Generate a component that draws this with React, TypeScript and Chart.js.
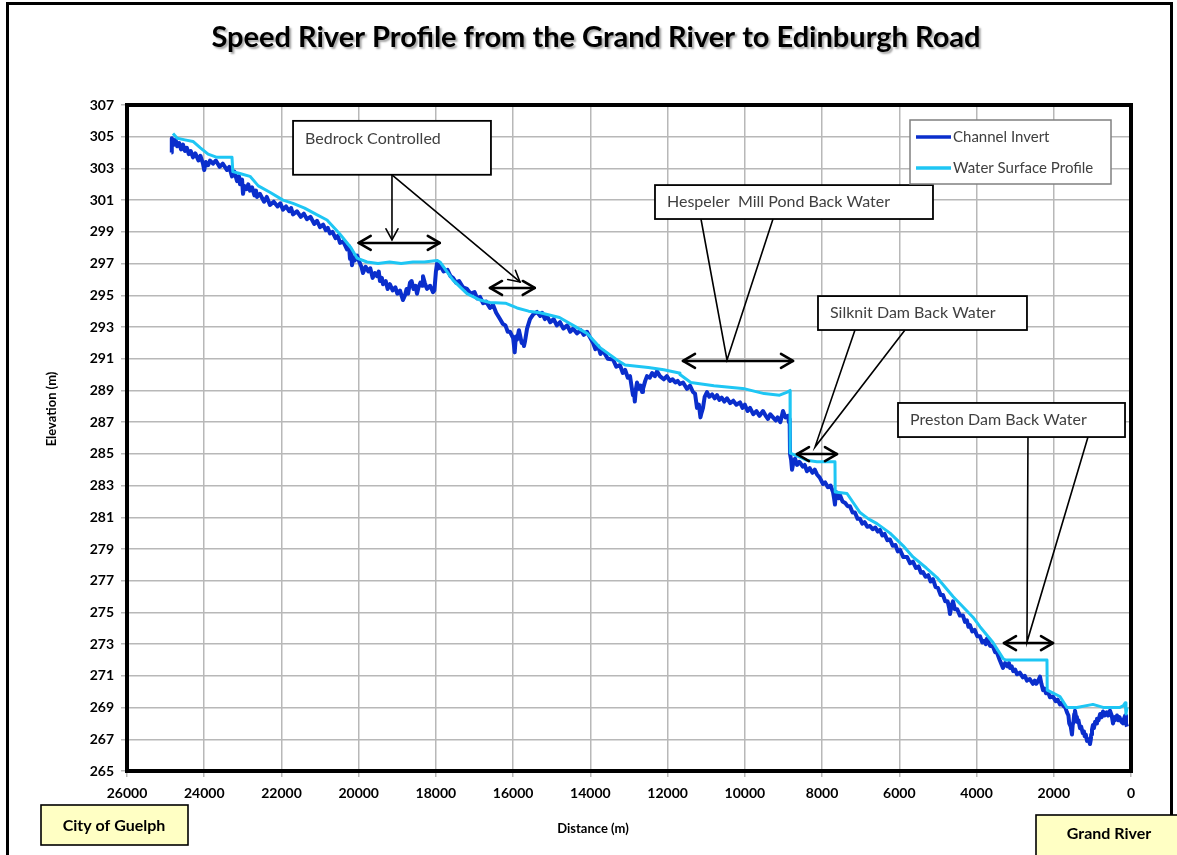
import React, { useEffect, useRef } from "react";
import { Chart, registerables } from "chart.js";

Chart.register(...registerables);

// ---------- DATA ----------
const TITLE = "Speed River Profile from the Grand River to Edinburgh Road";
const X_TITLE = "Distance (m)";
const Y_TITLE = "Elevation (m)";
const SERIES_NAMES = ["Channel Invert", "Water Surface Profile"];

const X_MIN = 0;
const X_MAX = 26000;
const X_STEP = 2000;
const Y_MIN = 265;
const Y_MAX = 307;
const Y_STEP = 2;

const invertDist = [
  24850, 24840, 24780, 24740, 24700, 24650, 24600, 24550, 24500, 24450,
  24400, 24350, 24291, 24230, 24150, 24100, 24032, 24000, 23960, 23900,
  23850, 23773, 23700, 23600, 23520, 23410, 23350, 23281, 23220, 23150,
  23100, 23074, 23020, 22996, 22960, 22900, 22860, 22815, 22760, 22700,
  22660, 22634, 22560, 22450, 22380, 22297, 22200, 22100, 22030, 21960,
  21880, 21800, 21750, 21701, 21600, 21500, 21420, 21339, 21250, 21150,
  21080, 21002, 20920, 20850, 20800, 20743, 20680, 20600, 20540, 20484,
  20400, 20303, 20250, 20225, 20200, 20174, 20140, 20100, 20040, 19966,
  19930, 19889, 19820, 19750, 19700, 19640, 19580, 19526, 19480, 19450,
  19400, 19371, 19300, 19250, 19190, 19120, 19050, 19000, 18930, 18880,
  18853, 18800, 18760, 18720, 18671, 18630, 18580, 18530, 18490, 18450,
  18400, 18360, 18335, 18290, 18231, 18150, 18076, 18040, 18000, 17972,
  17930, 17895, 17800, 17700, 17620, 17558, 17480, 17400, 17300, 17195,
  17100, 17000, 16930, 16859, 16780, 16700, 16600, 16522, 16440, 16341,
  16270, 16200, 16140, 16082, 16000, 15960, 15930, 15900, 15850, 15823,
  15780, 15750, 15720, 15693, 15640, 15564, 15480, 15383, 15300, 15250,
  15180, 15124, 15040, 14950, 14870, 14787, 14700, 14600, 14520, 14450,
  14350, 14250, 14170, 14088, 14000, 13932, 13870, 13800, 13740, 13673,
  13550, 13414, 13330, 13233, 13160, 13100, 13030, 12974, 12930, 12897,
  12870, 12850, 12820, 12793, 12740, 12700, 12660, 12638, 12580, 12534,
  12460, 12400, 12330, 12275, 12200, 12100, 12020, 11939, 11870, 11800,
  11740, 11680, 11600, 11498, 11420, 11343, 11290, 11239, 11190, 11150,
  11120, 11084, 11040, 10980, 10920, 10850, 10780, 10721, 10660, 10600,
  10530, 10462, 10380, 10300, 10220, 10125, 10060, 10000, 9930, 9866,
  9780, 9700, 9620, 9530, 9460, 9400, 9340, 9271, 9200, 9150,
  9080, 9012, 8950, 8882, 8860, 8840, 8830, 8800, 8778, 8740,
  8700, 8650, 8590, 8500, 8450, 8391, 8320, 8250, 8190, 8132,
  8060, 7976, 7920, 7850, 7780, 7717, 7690, 7666, 7640, 7600,
  7570, 7537, 7470, 7400, 7340, 7278, 7210, 7150, 7080, 7018,
  6960, 6900, 6830, 6759, 6690, 6620, 6560, 6500, 6440, 6380,
  6310, 6241, 6170, 6100, 6040, 5982, 5900, 5800, 5720, 5646,
  5570, 5500, 5440, 5387, 5320, 5250, 5190, 5128, 5060, 5000,
  4930, 4869, 4810, 4750, 4710, 4688, 4650, 4610, 4560, 4500,
  4430, 4351, 4300, 4250, 4210, 4170, 4110, 4050, 3980, 3911,
  3850, 3800, 3760, 3730, 3650, 3574, 3520, 3470, 3400, 3315,
  3260, 3200, 3160, 3134, 3090, 3050, 3000, 2953, 2880, 2800,
  2750, 2694, 2620, 2538, 2490, 2450, 2400, 2357, 2320, 2279,
  2240, 2200, 2150, 2098, 2020, 1950, 1900, 1840, 1800, 1750,
  1700, 1658, 1620, 1600, 1560, 1529, 1510, 1490, 1470, 1451,
  1420, 1400, 1360, 1321, 1290, 1250, 1220, 1200, 1170, 1140,
  1100, 1062, 1040, 1030, 1010, 985, 960, 930, 900, 881,
  840, 800, 760, 725, 680, 630, 590, 544, 500, 466,
  440, 420, 390, 363, 330, 300, 250, 207, 180, 150,
  130, 104,
];
const invertElev = [
  304.0, 304.9, 304.5, 304.8, 304.4, 304.6, 304.2, 304.5, 304.1, 304.3,
  303.9, 304.1, 303.7, 303.95, 303.5, 303.8, 303.3, 302.9, 303.4, 303.2,
  303.5, 303.3, 303.5, 303.1, 303.3, 302.9, 303.1, 302.5, 302.8, 302.2,
  302.5, 302.0, 302.3, 301.4, 301.9, 301.7, 302.0, 301.6, 301.8, 301.3,
  301.6, 301.2, 301.4, 300.9, 301.2, 300.7, 300.9, 300.6, 300.8, 300.4,
  300.6, 300.3, 300.5, 300.1, 300.3, 299.95, 300.15, 299.8, 299.95, 299.5,
  299.7, 299.3, 299.45, 299.1, 299.25, 298.9, 299.0, 298.6, 298.75, 298.3,
  298.4, 297.9, 298.1, 297.3, 297.8, 296.9, 297.4, 297.2, 297.5, 297.0,
  296.8, 296.4, 296.8, 296.5, 296.7, 296.1, 296.4, 296.2, 296.5, 295.9,
  296.1, 295.7, 295.9, 295.4, 295.7, 295.3, 295.5, 295.1, 295.3, 294.9,
  294.7, 295.0, 295.4, 295.1, 295.8, 295.9, 295.4, 295.6, 295.1, 295.5,
  295.8, 295.6, 296.2, 295.8, 295.4, 295.6, 295.2, 295.3, 296.5, 297.0,
  296.7, 296.9, 296.5, 296.6, 296.2, 296.1, 295.8, 295.9, 295.5, 295.4,
  295.1, 295.2, 294.8, 294.9, 294.5, 294.6, 294.2, 294.4, 293.9, 293.5,
  293.2, 293.1, 292.7, 292.7, 292.3, 291.4, 292.4, 292.2, 292.8, 292.5,
  292.0, 292.1, 291.8, 292.1, 292.9, 293.5, 293.8, 293.95, 293.7, 293.9,
  293.5, 293.7, 293.3, 293.5, 293.1, 293.3, 292.9, 293.1, 292.7, 292.9,
  292.6, 292.8, 292.5, 292.7, 292.3, 292.0, 291.6, 291.8, 291.3, 291.5,
  291.0, 290.95, 290.5, 290.6, 290.1, 290.3, 289.8, 289.9, 289.2, 288.7,
  288.9, 288.3, 289.1, 289.5, 289.1, 289.3, 288.9, 289.1, 289.6, 289.9,
  289.8, 290.1, 289.9, 290.2, 289.9, 289.7, 289.9, 289.6, 289.7, 289.5,
  289.6, 289.4, 289.5, 289.1, 289.3, 288.9, 288.8, 287.9, 288.1, 287.3,
  287.6, 287.9, 288.6, 288.9, 288.6, 288.75, 288.5, 288.7, 288.4, 288.55,
  288.3, 288.5, 288.2, 288.35, 288.1, 288.25, 287.9, 288.1, 287.7, 287.9,
  287.5, 287.7, 287.4, 287.7, 287.4, 287.2, 287.5, 287.3, 287.1, 287.3,
  287.0, 287.7, 287.3, 287.4, 287.0, 287.2, 285.0, 284.6, 284.0, 284.5,
  284.7, 284.3, 284.5, 284.2, 284.3, 283.9, 284.1, 283.8, 284.0, 283.7,
  283.5, 283.1, 283.2, 282.9, 283.0, 282.6, 282.2, 281.8, 282.6, 282.5,
  282.2, 282.4, 282.0, 281.9, 281.7, 281.7, 281.3, 281.3, 280.9, 280.9,
  280.6, 280.7, 280.4, 280.45, 280.25, 280.35, 280.1, 280.2, 279.85, 279.95,
  279.55, 279.6, 279.2, 279.25, 278.85, 278.95, 278.5, 278.5, 278.1, 278.2,
  277.8, 277.9, 277.5, 277.55, 277.25, 277.35, 276.95, 277.1, 276.6, 276.55,
  276.1, 276.1, 275.7, 275.7, 275.3, 274.9, 275.4, 275.7, 275.2, 275.2,
  274.8, 274.8, 274.4, 274.5, 274.1, 274.2, 273.8, 273.9, 273.5, 273.5,
  273.1, 273.2, 273.0, 273.35, 272.9, 272.85, 272.5, 272.45, 272.0, 271.5,
  271.8, 271.6, 271.8, 271.5, 271.6, 271.3, 271.4, 271.1, 271.2, 270.9,
  271.0, 270.7, 270.8, 270.5, 270.7, 270.5, 270.7, 270.95, 270.5, 270.1,
  270.2, 269.9, 270.0, 269.65, 269.7, 269.4, 269.5, 269.2, 269.3, 269.1,
  269.0, 268.7, 268.5, 268.0, 267.8, 267.3, 267.9, 268.1, 268.6, 268.8,
  268.4, 268.1, 268.2, 267.7, 267.8, 267.4, 267.5, 267.2, 267.3, 266.9,
  267.0, 266.7, 267.0, 267.3, 267.6, 267.9, 267.7, 268.1, 268.0, 268.3,
  268.2, 268.6, 268.4, 268.75, 268.5, 268.7, 268.5, 268.8, 268.5, 268.0,
  268.2, 268.4, 268.3, 268.5, 268.2, 268.4, 268.1, 268.0, 268.3, 268.5,
  268.0, 267.8,
];

const surfaceDist = [
  24809, 24700, 24500, 24291, 24100, 23900, 23669, 23400, 23281, 23260, 23100, 22815, 22600, 22300, 21960,
  21700, 21400, 21100, 20821, 20500, 20200, 20044, 19785, 19500, 19200, 18900, 18594, 18300, 17972, 17895,
  17558, 17195, 16859, 16600, 16200, 15900, 15600, 15300, 14800, 14300, 14088, 13750, 13300, 13100, 12500,
  12100, 11700, 11680, 11400, 10800, 10000, 9500, 9100, 8900, 8830, 8825, 8571, 8400, 8132, 7666,
  7660, 7355, 7018, 6800, 6578, 6241, 5900, 5646, 5300, 5024, 4610, 4092, 3911, 3574, 3315,
  3250, 2176, 2170, 1840, 1658, 1400, 985, 700, 300, 207, 150, 130, 104,
];
const surfaceElev = [
  305.2, 304.9, 304.8, 304.7, 304.3, 303.9, 303.7, 303.7, 303.7, 302.8, 302.7, 302.5, 301.9, 301.5, 301.0,
  300.8, 300.5, 300.1, 299.75, 298.9, 298.0, 297.35, 297.1, 297.0, 297.1, 297.0, 297.1, 297.1, 297.2, 297.1,
  295.96, 295.1, 294.7, 294.55, 294.5, 294.2, 294.0, 293.9, 293.6, 292.9, 292.6, 291.7, 290.9, 290.6, 290.45,
  290.3, 290.1, 290.0, 289.5, 289.3, 289.1, 288.8, 288.7, 288.9, 289.0, 285.05, 284.8, 284.6, 284.5, 284.5,
  282.6, 282.5, 281.3, 280.9, 280.6, 280.0, 279.2, 278.5, 277.8, 277.2, 276.0, 274.7, 274.1, 273.1, 272.1,
  272.0, 272.0, 270.1, 269.7, 269.0, 269.0, 269.2, 269.0, 269.0, 269.1, 269.3, 268.6, 269.0,
];

// annotation specs (data coordinates)
const bedrockBox = { text: "Bedrock Controlled", x1: 21700, x2: 16575, yTop: 306.0, yBot: 302.6 };
const hespelerBox = { text: "Hespeler  Mill Pond Back Water", x1: 12327, x2: 5128, yTop: 301.95, yBot: 299.81 };
const silknitBox = { text: "Silknit Dam Back Water", x1: 8106, x2: 2694, yTop: 294.95, yBot: 292.81 };
const prestonBox = { text: "Preston Dam Back Water", x1: 6034, x2: 155, yTop: 288.21, yBot: 286.06 };

const FONT = "Lato, 'Open Sans', 'DejaVu Sans', sans-serif";
const INVERT_COLOR = "#0a2ecc";
const SURFACE_COLOR = "#1ec6f4";

function head(ctx: CanvasRenderingContext2D, tx: number, ty: number, fx: number, fy: number, len: number, half: number) {
  const dx = tx - fx;
  const dy = ty - fy;
  const d = Math.hypot(dx, dy) || 1;
  const ux = dx / d;
  const uy = dy / d;
  const nx = -uy;
  const ny = ux;
  ctx.beginPath();
  ctx.moveTo(tx - len * ux + half * nx, ty - len * uy + half * ny);
  ctx.lineTo(tx, ty);
  ctx.lineTo(tx - len * ux - half * nx, ty - len * uy - half * ny);
  ctx.stroke();
}

function doubleArrow(ctx: CanvasRenderingContext2D, x1: number, x2: number, y: number) {
  ctx.save();
  ctx.strokeStyle = "#000";
  ctx.lineWidth = 2.6;
  ctx.lineCap = "round";
  ctx.lineJoin = "round";
  ctx.beginPath();
  ctx.moveTo(x1, y);
  ctx.lineTo(x2, y);
  ctx.stroke();
  head(ctx, x1, y, x2, y, 12, 7);
  head(ctx, x2, y, x1, y, 12, 7);
  ctx.restore();
}

function textBox(ctx: CanvasRenderingContext2D, l: number, t: number, r: number, b: number, text: string, ty?: number) {
  ctx.save();
  ctx.fillStyle = "#fff";
  ctx.fillRect(l, t, r - l, b - t);
  ctx.strokeStyle = "#000";
  ctx.lineWidth = 1.8;
  ctx.strokeRect(l, t, r - l, b - t);
  ctx.fillStyle = "#404040";
  ctx.font = `16px ${FONT}`;
  ctx.textAlign = "left";
  ctx.textBaseline = "middle";
  ctx.fillText(text, l + 12, ty !== undefined ? ty : (t + b) / 2);
  ctx.restore();
}

const decorPlugin = {
  id: "decor",
  beforeDraw(chart: any) {
    const ctx: CanvasRenderingContext2D = chart.ctx;
    ctx.save();
    ctx.fillStyle = "#fff";
    ctx.fillRect(0, 0, chart.width, chart.height);
    ctx.restore();
  },
  afterDraw(chart: any) {
    const ctx: CanvasRenderingContext2D = chart.ctx;
    const xs = chart.scales.x;
    const ys = chart.scales.y;
    const X = (v: number) => xs.getPixelForValue(v);
    const Y = (v: number) => ys.getPixelForValue(v);
    const ca = chart.chartArea;

    // outer frame
    ctx.save();
    ctx.strokeStyle = "#000";
    ctx.lineWidth = 3;
    ctx.beginPath();
    ctx.moveTo(7.5, 900);
    ctx.lineTo(7.5, 3.5);
    ctx.lineTo(1171.5, 3.5);
    ctx.lineTo(1171.5, 900);
    ctx.stroke();
    ctx.restore();

    // plot border
    ctx.save();
    ctx.strokeStyle = "#000";
    ctx.lineWidth = 4;
    ctx.strokeRect(ca.left, ca.top, ca.right - ca.left, ca.bottom - ca.top);
    ctx.restore();

    // title
    ctx.save();
    ctx.font = `bold 29px ${FONT}`;
    ctx.textAlign = "center";
    ctx.textBaseline = "middle";
    ctx.shadowColor = "rgba(0,0,0,0.35)";
    ctx.shadowOffsetX = 2;
    ctx.shadowOffsetY = 2;
    ctx.shadowBlur = 2;
    ctx.fillStyle = "#000";
    ctx.fillText(TITLE, 596, 38);
    ctx.restore();

    // axis titles
    ctx.save();
    ctx.font = `bold 13px ${FONT}`;
    ctx.fillStyle = "#000";
    ctx.textAlign = "center";
    ctx.textBaseline = "middle";
    ctx.fillText(X_TITLE, (ca.left + ca.right) / 2 - 36, 829);
    ctx.translate(52, 409);
    ctx.rotate(-Math.PI / 2);
    ctx.fillText(Y_TITLE, 0, 0);
    ctx.restore();

    // Bedrock annotation
    {
      const l = X(bedrockBox.x1), r = X(bedrockBox.x2), t = Y(bedrockBox.yTop), b = Y(bedrockBox.yBot);
      ctx.save();
      ctx.strokeStyle = "#000";
      ctx.lineWidth = 1.6;
      ctx.lineCap = "round";
      const sx = X(19138);
      ctx.beginPath();
      ctx.moveTo(sx, b);
      ctx.lineTo(sx, Y(298.5));
      ctx.stroke();
      head(ctx, sx, Y(298.5), sx, b, 11, 6);
      ctx.beginPath();
      ctx.moveTo(sx, b);
      ctx.lineTo(X(15823), Y(295.84));
      ctx.stroke();
      head(ctx, X(15823), Y(295.84), sx, b, 11, 6);
      ctx.restore();
      textBox(ctx, l, t, r, b, bedrockBox.text, t + 18);
      doubleArrow(ctx, X(20000), X(17900), Y(298.3));
      doubleArrow(ctx, X(16600), X(15440), Y(295.46));
    }

    // Callout wedges
    const wedge = (bx1: number, bx2: number, by: number, ax: number, ay: number) => {
      ctx.save();
      ctx.strokeStyle = "#000";
      ctx.lineWidth = 1.6;
      ctx.beginPath();
      ctx.moveTo(X(bx1), Y(by));
      ctx.lineTo(X(ax), Y(ay));
      ctx.lineTo(X(bx2), Y(by));
      ctx.stroke();
      ctx.restore();
    };

    // Hespeler
    wedge(11136, 9271, hespelerBox.yBot, 10462, 290.92);
    textBox(ctx, X(hespelerBox.x1), Y(hespelerBox.yTop), X(hespelerBox.x2), Y(hespelerBox.yBot), hespelerBox.text);
    doubleArrow(ctx, X(11602), X(8753), Y(290.86));

    // Silknit
    wedge(7148, 5853, silknitBox.yBot, 8184, 285.43);
    textBox(ctx, X(silknitBox.x1), Y(silknitBox.yTop), X(silknitBox.x2), Y(silknitBox.yBot), silknitBox.text);
    doubleArrow(ctx, X(8650), X(7614), Y(284.99));

    // Preston
    wedge(2668, 1114, prestonBox.yBot, 2694, 273.13);
    textBox(ctx, X(prestonBox.x1), Y(prestonBox.yTop), X(prestonBox.x2), Y(prestonBox.yBot), prestonBox.text);
    doubleArrow(ctx, X(3289), X(2020), Y(273.07));

    // legend
    {
      const l = ca.right - 221, t = ca.top + 15, w = 201, h = 64;
      ctx.save();
      ctx.fillStyle = "#fff";
      ctx.fillRect(l, t, w, h);
      ctx.strokeStyle = "#808080";
      ctx.lineWidth = 1.5;
      ctx.strokeRect(l, t, w, h);
      ctx.font = `15px ${FONT}`;
      ctx.textAlign = "left";
      ctx.textBaseline = "middle";
      const colors = [INVERT_COLOR, SURFACE_COLOR];
      SERIES_NAMES.forEach((name, i) => {
        const yy = t + 17 + i * 31;
        ctx.strokeStyle = colors[i];
        ctx.lineWidth = 3.5;
        ctx.beginPath();
        ctx.moveTo(l + 6, yy);
        ctx.lineTo(l + 41, yy);
        ctx.stroke();
        ctx.fillStyle = "#404040";
        ctx.fillText(name, l + 43, yy);
      });
      ctx.restore();
    }

    // bottom boxes
    const yellowBox = (l: number, t: number, r: number, b: number, text: string, cx: number, cy: number) => {
      ctx.save();
      ctx.fillStyle = "#ffffc4";
      ctx.fillRect(l, t, r - l, b - t);
      ctx.strokeStyle = "#000";
      ctx.lineWidth = 1.6;
      ctx.strokeRect(l, t, r - l, b - t);
      ctx.fillStyle = "#000";
      ctx.font = `bold 16px ${FONT}`;
      ctx.textAlign = "center";
      ctx.textBaseline = "middle";
      ctx.fillText(text, cx, cy);
      ctx.restore();
    };
    yellowBox(41, 805, 188, 845, "City of Guelph", 114, 826);
    yellowBox(1036, 815, 1190, 870, "Grand River", 1109, 834);
  },
};

export default function App() {
  const ref = useRef<HTMLCanvasElement | null>(null);

  useEffect(() => {
    if (!ref.current) return;
    const invertPts = invertDist.map((d, i) => ({ x: d, y: invertElev[i] }));
    const surfacePts = surfaceDist.map((d, i) => ({ x: d, y: surfaceElev[i] }));
    const tickFont = { family: FONT, size: 14, weight: "bold" as const };
    const chart = new Chart(ref.current, {
      type: "line",
      data: {
        datasets: [
          {
            label: SERIES_NAMES[0],
            data: invertPts,
            borderColor: INVERT_COLOR,
            borderWidth: 4,
            borderJoinStyle: "round",
            pointRadius: 0,
            tension: 0,
            order: 2,
          },
          {
            label: SERIES_NAMES[1],
            data: surfacePts,
            borderColor: SURFACE_COLOR,
            borderWidth: 3,
            borderJoinStyle: "round",
            pointRadius: 0,
            tension: 0,
            order: 1,
          },
        ],
      },
      options: {
        animation: false,
        responsive: false,
        parsing: false as any,
        layout: { padding: { top: 105, right: 46, bottom: 0, left: 0 } },
        plugins: {
          legend: { display: false },
          tooltip: { enabled: false },
          title: { display: false },
        },
        scales: {
          x: {
            type: "linear",
            reverse: true,
            min: X_MIN,
            max: X_MAX,
            ticks: {
              stepSize: X_STEP,
              font: tickFont,
              color: "#000",
              padding: 8,
              maxRotation: 0,
              autoSkip: false,
              callback: (v: any) => String(v),
            },
            grid: { color: "#b8b8b8", lineWidth: 1.5, tickLength: 6 },
            border: { display: false },
            afterFit: (s: any) => {
              s.height = 84;
            },
          },
          y: {
            type: "linear",
            min: Y_MIN,
            max: Y_MAX,
            ticks: { stepSize: Y_STEP, font: tickFont, color: "#000", padding: 7, autoSkip: false, callback: (v: any) => String(v) },
            grid: { color: "#b8b8b8", lineWidth: 1.5, tickLength: 6 },
            border: { display: false },
            afterFit: (s: any) => {
              s.width = 127;
            },
          },
        },
      },
      plugins: [decorPlugin],
    });
    return () => chart.destroy();
  }, []);

  return (
    <div style={{ position: "absolute", left: 0, top: 0, width: 1177, height: 855, background: "#fff" }}>
      <canvas ref={ref} width={1177} height={855} style={{ display: "block", width: 1177, height: 855 }} />
    </div>
  );
}
